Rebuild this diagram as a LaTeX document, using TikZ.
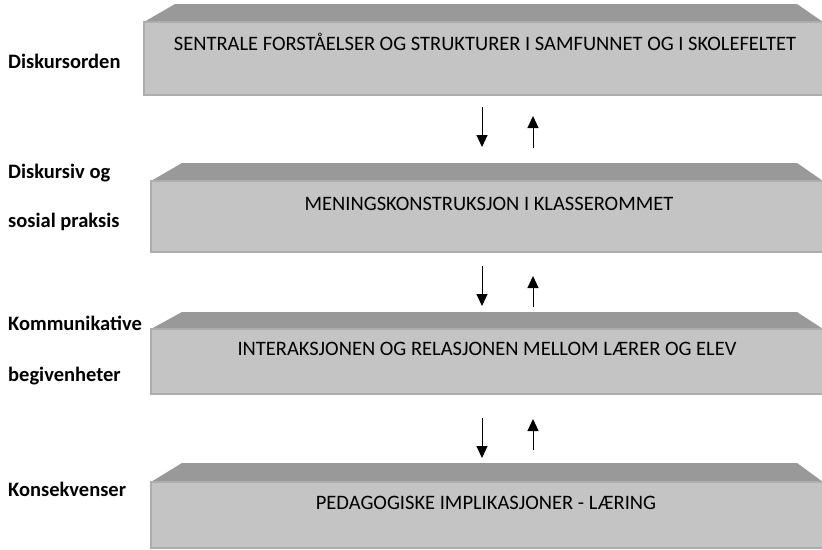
\documentclass[tikz,border=0pt]{standalone}
\usepackage{fontspec}
\setmainfont{Carlito}
\usetikzlibrary{arrows.meta}
\definecolor{topgray}{HTML}{999999}
\definecolor{facegray}{HTML}{C4C4C4}
\definecolor{edgegray}{HTML}{ADADAD}
\tikzset{
  face/.style={fill=facegray, draw=edgegray, line width=1.2pt},
  bevel/.style={fill=topgray, draw=none},
  boxtext/.style={font=\fontsize{20.5}{24}\selectfont, anchor=base, inner sep=0pt},
  label/.style={font=\bfseries\fontsize{20.5}{24}\selectfont, anchor=base west, inner sep=0pt},
  flow/.style={line width=1pt, -{Triangle[length=12pt,width=11pt]}}
}
\begin{document}
\begin{tikzpicture}[x=1pt,y=-1pt]
\useasboundingbox (0,0) rectangle (822,549);

% one bevelled slab: #1 left, #2 top of bevel, #3 top of face, #4 bottom
\newcommand{\slab}[5]{%
  \fill[bevel] (#1,#3) -- (#1+31,#2) -- (797,#2) -- (823,#3) -- cycle;
  \draw[face] (#1,#3) rectangle (823,#4);
  \node[inner sep=0pt, minimum size=0pt] (#5) at (486,{(#3+#4)/2}) {};
}
\slab{144}{4}{22}{95}{b1}
\slab{151}{163}{181}{252}{b2}
\slab{151}{312}{329}{394}{b3}
\slab{151}{463}{482}{548}{b4}

% slab texts
\node[boxtext] (t1) at (485,50) {SENTRALE FORSTÅELSER OG STRUKTURER I SAMFUNNET OG I SKOLEFELTET};
\node[boxtext] (t2) at (489,210) {MENINGSKONSTRUKSJON I KLASSEROMMET};
\node[boxtext] (t3) at (487,355) {INTERAKSJONEN OG RELASJONEN MELLOM LÆRER OG ELEV};
\node[boxtext] (t4) at (486,509) {PEDAGOGISKE IMPLIKASJONER - LÆRING};

% level labels
\node[label] (l1) at (8,68) {Diskursorden};
\node[label] (l2a) at (8,178) {Diskursiv og};
\node[label] (l2b) at (8,227) {sosial praksis};
\node[label] (l3a) at (8,330) {Kommunikative};
\node[label] (l3b) at (8,381) {begivenheter};
\node[label] (l4) at (8,496) {Konsekvenser};

% arrows between the levels
\coordinate (d1s) at (482,107); \coordinate (d1e) at (482,147);
\coordinate (u1s) at (533,148); \coordinate (u1e) at (533,116);
\coordinate (d2s) at (482,266); \coordinate (d2e) at (482,306);
\coordinate (u2s) at (533,307); \coordinate (u2e) at (533,276);
\coordinate (d3s) at (482,418); \coordinate (d3e) at (482,458);
\coordinate (u3s) at (533,450); \coordinate (u3e) at (533,419);
\draw[flow] (d1s) -- (d1e);
\draw[flow] (u1s) -- (u1e);
\draw[flow] (d2s) -- (d2e);
\draw[flow] (u2s) -- (u2e);
\draw[flow] (d3s) -- (d3e);
\draw[flow] (u3s) -- (u3e);
\end{tikzpicture}
\end{document}
